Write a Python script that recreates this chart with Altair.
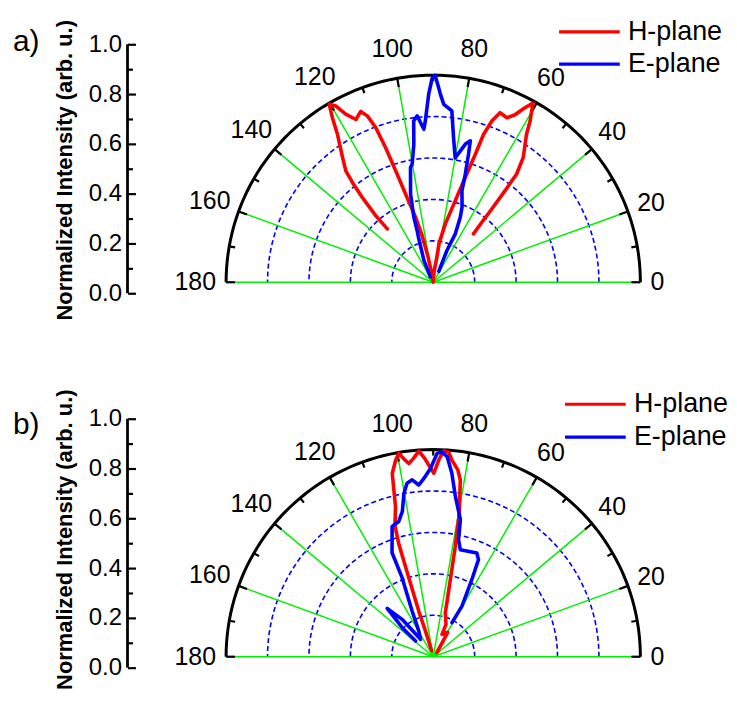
import altair as alt
import pandas as pd

# ---------------- values ----------------
# angle in degrees, normalized intensity (outer circle = 1.0)
a_h_angle = [130.7, 130.8, 129.9, 129.0, 128.1, 126.0, 122.9, 121.5, 120.3, 118.9,
             117.5, 115.4, 113.0, 111.6, 110.4, 109.5, 108.6, 107.4, 105.2, 103.5,
             101.5, 99.0, 93.0, 86.0, 82.0, 81.5, 78.3, 74.9, 73.0, 71.8,
             71.2, 70.0, 68.5, 65.9, 64.0, 62.3, 60.9, 59.0, 57.8, 54.2,
             52.4, 51.9, 51.4, 51.0, 50.3]
a_h_value = [0.34, 0.425, 0.535, 0.62, 0.684, 0.745, 0.851, 0.932, 0.995, 0.972,
             0.915, 0.87, 0.896, 0.864, 0.797, 0.69, 0.568, 0.447, 0.326, 0.238,
             0.124, 0.03, 0.0, 0.05, 0.11, 0.19, 0.288, 0.408, 0.53, 0.651,
             0.755, 0.83, 0.88, 0.87, 0.90, 0.952, 0.99, 0.908, 0.845, 0.743,
             0.66, 0.562, 0.453, 0.373, 0.304]

a_e_angle = [118.0, 113.0, 108.4, 107.3, 106.6, 104.4, 101.2, 100.1, 98.0, 96.9,
             95.5, 93.5, 92.8, 91.4, 90.3, 89.5, 88.6, 87.8, 86.6, 83.8,
             82.0, 80.0, 76.9, 75.3, 74.6, 73.5, 72.6, 69.0, 67.4, 65.5,
             66.7, 63.0]
a_e_value = [0.03, 0.115, 0.22, 0.262, 0.328, 0.44, 0.565, 0.58, 0.673, 0.785,
             0.807, 0.74, 0.78, 0.907, 0.985, 1.0, 0.95, 0.908, 0.86, 0.832,
             0.705, 0.61, 0.685, 0.706, 0.642, 0.545, 0.464, 0.388, 0.34, 0.257,
             0.167, 0.059]

b_h_angle = [105.0, 106.8, 107.6, 107.2, 107.0, 106.3, 104.1, 102.6, 100.8, 99.6,
             98.2, 97.2, 95.8, 94.0, 92.5, 91.5, 89.8, 88.4, 87.1, 85.7,
             84.6, 82.5, 81.3, 79.7, 78.7, 77.5, 74.6, 68.5, 68.6, 59.4,
             48.0]
b_h_value = [0.03, 0.13, 0.23, 0.40, 0.566, 0.658, 0.748, 0.907, 0.967, 0.996,
             0.96, 0.94, 0.96, 0.995, 0.96, 0.93, 0.886, 0.95, 0.995, 0.99,
             0.954, 0.91, 0.863, 0.705, 0.543, 0.382, 0.22, 0.168, 0.116, 0.137,
             0.027]

b_e_angle = [138.4, 136.9, 133.6, 129.8, 126.2, 119.3, 114.8, 111.5, 111.6, 107.5,
             104.3, 102.0, 100.2, 98.6, 96.8, 94.8, 93.0, 90.8, 88.9, 87.6,
             86.0, 84.2, 82.1, 78.8, 77.8, 75.8, 67.2, 65.0, 63.4, 60.4,
             61.2]
b_e_value = [0.114, 0.205, 0.322, 0.235, 0.104, 0.142, 0.243, 0.41, 0.54, 0.66,
             0.674, 0.717, 0.80, 0.847, 0.86, 0.832, 0.862, 0.91, 0.982, 0.99,
             0.968, 0.89, 0.78, 0.675, 0.578, 0.533, 0.543, 0.517, 0.417, 0.281,
             0.188]

plane_names = ["H-plane", "E-plane"]
plane_colors = ["#ff0000", "#0000ff"]

grid_angles = [0, 20, 40, 60, 80, 100, 120, 140, 160, 180]
tick_angles = list(range(0, 181, 10))
ring_radii = [0.2, 0.4, 0.6, 0.8]
circle_angles = list(range(0, 181, 2))
axis_ticks = [round(i * 0.1, 1) for i in range(11)]
axis_labels = [0.0, 0.2, 0.4, 0.6, 0.8, 1.0]
axis_range = [0.0, 1.0]

# ---------------- geometry (pixels) ----------------
W, H = 588, 290
PX = 208.0            # pixels per unit radius
CX, CY = 307.0, 269.0 # polar origin inside the plot area
XDOM = [-CX / PX, (W - CX) / PX]
YDOM = [-(H - CY) / PX, CY / PX]
IPX = 250.0           # pixels per unit of the intensity axis
IZERO = 280.0         # local y of intensity 0
IDOM = [-(H - IZERO) / IPX, IZERO / IPX]

FONT = "Liberation Sans"
GREEN = "#00f000"
BLUE = "#0000ff"

xs = alt.Scale(domain=XDOM, nice=False, zero=False)
ys = alt.Scale(domain=YDOM, nice=False, zero=False)
iscale = alt.Scale(domain=IDOM, nice=False, zero=False)

PXE = "datum.r * cos(datum.ang * PI / 180)"
PYE = "datum.r * sin(datum.ang * PI / 180)"


def X(f):
    return alt.X(f, type="quantitative", scale=xs, axis=None)


def Y(f):
    return alt.Y(f, type="quantitative", scale=ys, axis=None)


def make_panel(h_ang, h_val, e_ang, e_val, tag, tag_y, leg_x, leg_y, leg_pad, title_y):
    rings_df = pd.DataFrame([{"ring": r, "r": r, "ang": a}
                             for r in ring_radii for a in circle_angles])
    outer_df = pd.DataFrame([{"r": 1.0, "ang": a} for a in circle_angles])
    spokes_df = pd.DataFrame({"ang": grid_angles})
    ticks_df = pd.DataFrame({"ang": tick_angles})
    labels_df = pd.DataFrame({"ang": grid_angles, "lab": [str(a) for a in grid_angles]})
    rows = []
    for name, angs, vals in (("H-plane", h_ang, h_val), ("E-plane", e_ang, e_val)):
        for i, (a, v) in enumerate(zip(angs, vals)):
            rows.append({"plane": name, "ang": a, "r": v, "idx": i})
    curves_df = pd.DataFrame(rows)

    rings = alt.Chart(rings_df).transform_calculate(px=PXE, py=PYE).mark_line(
        color=BLUE, strokeWidth=1.6, strokeDash=[5, 3]
    ).encode(x=X("px"), y=Y("py"), detail="ring:N", order="ang:Q")

    spokes = alt.Chart(spokes_df).transform_calculate(
        x0="0", y0="0",
        x1="cos(datum.ang * PI / 180)", y1="sin(datum.ang * PI / 180)"
    ).mark_rule(color=GREEN, strokeWidth=1.5).encode(
        x=X("x0"), y=Y("y0"), x2="x1:Q", y2="y1:Q")

    outer = alt.Chart(outer_df).transform_calculate(px=PXE, py=PYE).mark_line(
        color="black", strokeWidth=3
    ).encode(x=X("px"), y=Y("py"), order="ang:Q")

    ticks = alt.Chart(ticks_df).transform_calculate(
        rin="datum.ang % 20 == 0 ? 1 - 9 / 208 : 1 - 6 / 208",
        x1="cos(datum.ang * PI / 180)", y1="sin(datum.ang * PI / 180)",
        x2="datum.rin * cos(datum.ang * PI / 180)", y2="datum.rin * sin(datum.ang * PI / 180)"
    ).mark_rule(color="black", strokeWidth=2.2).encode(
        x=X("x1"), y=Y("y1"), x2="x2:Q", y2="y2:Q")

    labels = alt.Chart(labels_df).transform_calculate(
        rl="(218 + sqrt(pow(7 * length(datum.lab) * cos(datum.ang * PI / 180), 2)"
           " + pow(19.5 * sin(datum.ang * PI / 180), 2))) / 208",
        lx="datum.rl * cos(datum.ang * PI / 180)",
        ly="datum.rl * sin(datum.ang * PI / 180)"
    ).mark_text(font=FONT, fontSize=25, color="black", align="center", baseline="middle").encode(
        x=X("lx"), y=Y("ly"), text="lab:N")

    curves = alt.Chart(curves_df).transform_calculate(px=PXE, py=PYE).mark_line(
        strokeWidth=3.6, strokeJoin="round", strokeCap="round"
    ).encode(
        x=X("px"), y=Y("py"), order="idx:Q",
        color=alt.Color("plane:N",
                        scale=alt.Scale(domain=plane_names, range=plane_colors),
                        legend=alt.Legend(orient="none", legendX=leg_x, legendY=leg_y,
                                          title=None, padding=0,
                                          symbolType="M-1,0H5", symbolSize=413,
                                          symbolStrokeWidth=3.2,
                                          labelFont=FONT, labelFontSize=27,
                                          labelColor="black", labelOffset=45.5,
                                          rowPadding=leg_pad)),
    )

    axis_line = alt.Chart(pd.DataFrame({"lo": [axis_range[0]], "hi": [axis_range[1]]})).mark_rule(
        color="black", strokeWidth=2.8
    ).encode(
        x=alt.value(0),
        y=alt.Y("lo:Q", scale=iscale,
                axis=alt.Axis(orient="left", values=axis_labels, format=".1f",
                              ticks=False, domain=False, grid=False,
                              labelFont=FONT, labelFontSize=24, labelColor="black",
                              labelPadding=6,
                              title="Normalized Intensity (arb. u.)",
                              titleFont=FONT, titleFontSize=22, titleFontWeight="bold",
                              titleColor="black", titleAngle=270, titleBaseline="bottom",
                              titleX=-51, titleY=title_y)),
        y2="hi:Q",
    )

    axis_ticks_layer = alt.Chart(pd.DataFrame({"v": axis_ticks})).mark_point(opacity=0).encode(
        x=alt.value(0),
        y=alt.Y("v:Q", scale=iscale,
                axis=alt.Axis(orient="right", offset=-W, values=axis_ticks,
                              labels=False, domain=False, grid=False, title=None,
                              tickColor="black", tickWidth=2.2,
                              tickSize={"condition": {"test": "round(datum.value * 10) % 2 == 0",
                                                      "value": 8}, "value": 5})),
    )

    tag_text = alt.Chart(pd.DataFrame({"t": [tag]})).mark_text(
        font=FONT, fontSize=30, color="black", align="left", baseline="alphabetic"
    ).encode(x=alt.value(-115), y=alt.value(tag_y), text="t:N")

    return alt.layer(rings, spokes, outer, ticks, labels, curves,
                     axis_line, axis_ticks_layer, tag_text).resolve_scale(
        y="independent").properties(width=W, height=H)


panel_a = make_panel(a_h_angle, a_h_value, a_e_angle, a_e_value, "a)", 37, 430, 4, 4.5, 156)
panel_b = make_panel(b_h_angle, b_h_value, b_e_angle, b_e_value, "b)", 45, 436, 2, 5, 151)

chart = alt.vconcat(panel_a, panel_b, spacing=86, bounds="flush").resolve_scale(
    x="independent", y="independent", color="independent"
).resolve_legend(color="independent").properties(
    padding={"left": 5, "top": 5, "right": 0, "bottom": 0}
).configure_view(stroke=None)

chart.save("out.html", embed_options={"renderer": "svg", "actions": False})
